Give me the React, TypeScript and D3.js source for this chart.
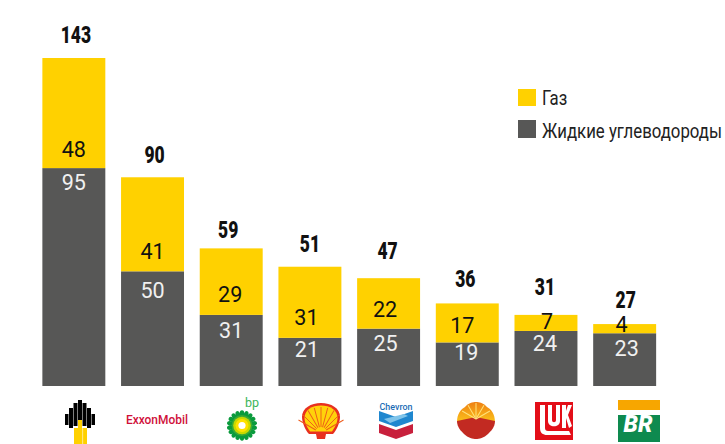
import React from "react";
import * as d3 from "d3";

const companies = ["Роснефть", "ExxonMobil", "bp", "Shell", "Chevron", "CNPC", "ЛУКОЙЛ", "Petrobras"];
const gas = [48, 41, 29, 31, 22, 17, 7, 4];
const liquids = [95, 50, 31, 21, 25, 19, 24, 23];
const totals = [143, 90, 59, 51, 47, 36, 31, 27];
const legendLabels = ["Газ", "Жидкие углеводороды"];

// label placement relative to the bar centre and segment edges
const gasNudge = [[0, -11], [0, -12], [-1, -13], [-3.5, -13], [-3.5, -12], [-5, -9], [1, -2], [-3, -1]];
const liquidNudge = [[0, 22], [0, 27], [0, 23], [-3, 19], [-3, 22], [-1, 18], [-1, 20], [2, 23]];
const totalNudge = [[2, -15], [2, -14], [-3, -10], [0, -15], [-1, -19], [-2, -16], [-1, -20], [1, -16]];

const YELLOW = "#ffd100";
const GRAY = "#575756";
const FONT = "Roboto, sans-serif";

const x = d3.scaleBand<string>().domain(companies).range([34.5, 664]).paddingInner(0.2).paddingOuter(0.1);
const y = d3.scaleLinear().domain([0, 143]).range([386, 58]);

function CondText({ x: tx, y: ty, sx = 0.85, children, ...rest }: any) {
  return (
    <text transform={`translate(${tx},${ty}) scale(${sx},1)`} fontFamily={FONT} {...rest}>
      {children}
    </text>
  );
}

function Rosneft({ cx }: { cx: number }) {
  const cols = [
    [-2, 4, 400, 425],
    [-6.5, 4, 403, 426],
    [2.5, 4, 403, 426],
    [-11, 4, 408, 428],
    [7, 4, 408, 428],
    [-15, 3.5, 414, 425],
    [11.5, 3.5, 414, 425],
  ];
  return (
    <g transform={`translate(${cx},0)`}>
      {cols.map((c, i) => (
        <rect key={i} x={c[0]} y={c[2]} width={c[1]} height={c[3] - c[2]} fill="#000" />
      ))}
      <path d="M-6,428 L-2,428 L-2,420 L2,420 L2,428 L7,428 L7,444 L-6,444 Z" fill={YELLOW} />
      <rect x={2.3} y={428} width={0.8} height={16} fill="#fff" opacity={0.7} />
    </g>
  );
}

function Sunflower({ cx, cy }: { cx: number; cy: number }) {
  const rays = d3.range(18).map((i) => (i * 360) / 18);
  return (
    <g>
      {rays.map((a) => (
        <ellipse key={a} cx={cx} cy={cy - 11.8} rx={2.3} ry={3.4} fill="#0a9a3c" transform={`rotate(${a},${cx},${cy})`} />
      ))}
      <circle cx={cx} cy={cy} r={10.5} fill="#3aa935" />
      <circle cx={cx} cy={cy} r={8.8} fill="#c9d800" />
      <circle cx={cx} cy={cy} r={6.5} fill="#ffe100" />
      <circle cx={cx} cy={cy} r={3.6} fill="#fff" />
      <text x={252} y={406.5} fontFamily={FONT} fontSize={12.5} fill="#3cb55a" textAnchor="middle">bp</text>
    </g>
  );
}

function ShellLogo({ cx }: { cx: number }) {
  const shell = "M-19,417 C-19,408 -10,403 0,403 C10,403 19,408 19,417 C19,423 15,431 12,434 L5,434 L4,439 L-4,439 L-5,434 L-12,434 C-15,431 -19,423 -19,417 Z";
  const ribs = d3.range(-4, 5).map((i) => i * 15);
  return (
    <g transform={`translate(${cx},0)`}>
      <path d={shell} fill="#e8301f" />
      <path d="M-16.5,418 C-16.5,410 -9,405.5 0,405.5 C9,405.5 16.5,410 16.5,418 C16.5,423 13.5,428 11,431.5 L-11,431.5 C-13.5,428 -16.5,423 -16.5,418 Z" fill="#ffd20a" />
      {ribs.map((a) => (
        <line key={a} x1={0} y1={427} x2={0} y2={407} stroke="#ee5a1a" strokeWidth={0.9} transform={`rotate(${a},0,433)`} />
      ))}
    </g>
  );
}

function ChevronLogo({ cx }: { cx: number }) {
  return (
    <g transform={`translate(${cx},0)`}>
      <text x={0} y={410} fontFamily={FONT} fontSize={8.5} fontWeight={500} fill="#1b6cb5" textAnchor="middle" textLength={33} lengthAdjust="spacingAndGlyphs">Chevron</text>
      <path d="M-17,411 L0,417 L17,411 L17,421 L0,427 L-17,421 Z" fill="#1f87cf" />
      <path d="M-17,424 L0,430 L17,424 L17,433 L0,439 L-17,433 Z" fill="#c8203c" />
      <path d="M-12,419 L8,414 L12,416 L-6,423 Z" fill="#7fc4ea" />
    </g>
  );
}

function Cnpc({ cx }: { cx: number }) {
  const rays = d3.range(-60, 61, 30);
  return (
    <g transform={`translate(${cx},0)`}>
      <defs>
        <linearGradient id="cnpcTop" x1="0" y1="0" x2="0" y2="1">
          <stop offset="0" stopColor="#ee7f14" />
          <stop offset="1" stopColor="#fbc21a" />
        </linearGradient>
      </defs>
      <path d="M-19,422 C-19,414 -15,409 -11,407 C-8,403 -3,402 0,402 C3,402 8,403 11,407 C15,409 19,414 19,422 Z" fill="url(#cnpcTop)" />
      <path d="M-19,421 C-19,427 -15,431 -12,434 C-8,438 -3,439 0,439 C3,439 8,438 12,434 C15,431 19,427 19,421 L0,417 Z" fill="#c22a22" />
      {rays.map((a) => (
        <line key={a} x1={0} y1={419} x2={0} y2={403} stroke="#ffe27a" strokeWidth={1} transform={`rotate(${a},0,419)`} />
      ))}
    </g>
  );
}

function Lukoil({ cx }: { cx: number }) {
  return (
    <g transform={`translate(${cx},0)`}>
      <rect x={-19} y={402} width={38} height={38} fill="#e30e18" />
      <path d="M-14,405 L-14,428 C-14,433 -11,435 -7,435 L17,435 L15,431 L-6,431 C-8,431 -9,430 -9,428 L-9,405 Z M-6,405 L-6,421 C-6,428 6,428 6,421 L6,405 L2,405 L2,420 C2,423 -2,423 -2,420 L-2,405 Z M8,405 L8,428 L12,428 L12,418 L15,428 L18,426 L14,415 L18,405 L14,405 L12,411 L12,405 Z" fill="#fff" />
    </g>
  );
}

function Petrobras({ cx }: { cx: number }) {
  return (
    <g transform={`translate(${cx},0)`}>
      <rect x={-21} y={400} width={42} height={10} fill="#f7a600" />
      <rect x={-21} y={415} width={42} height={27} fill="#0e8a4f" />
      <text x={-1} y={432} fontFamily={FONT} fontSize={23} fontWeight={900} fontStyle="italic" fill="#fff" textAnchor="middle">BR</text>
    </g>
  );
}

export default function App() {
  const bw = x.bandwidth();
  return (
    <svg width={725} height={444} style={{ position: "absolute", left: 0, top: 0, background: "#fff" }}>
      {companies.map((c, i) => {
        const bx = x(c)!;
        const yL = y(liquids[i]);
        const yT = y(liquids[i] + gas[i]);
        return (
          <g key={c}>
            <rect x={bx} y={yL} width={bw} height={y(0) - yL} fill={GRAY} />
            <rect x={bx} y={yT} width={bw} height={yL - yT} fill={YELLOW} />
          </g>
        );
      })}
      {companies.map((c, i) => {
        const cx = x(c)! + bw / 2;
        const yL = y(liquids[i]);
        const yT = y(liquids[i] + gas[i]);
        return (
          <g key={c}>
            <CondText x={cx + gasNudge[i][0]} y={yL + gasNudge[i][1]} sx={0.98} fontSize={22} fill="#111" textAnchor="middle">{gas[i]}</CondText>
            <CondText x={cx + liquidNudge[i][0]} y={yL + liquidNudge[i][1]} sx={0.98} fontSize={22} fill="#f0f0f0" textAnchor="middle">{liquids[i]}</CondText>
            <CondText x={cx + totalNudge[i][0]} y={yT + totalNudge[i][1]} sx={0.76} fontSize={23} fontWeight={900} fill="#111" textAnchor="middle">{totals[i]}</CondText>
          </g>
        );
      })}

      <rect x={518} y={89} width={18} height={17} fill={YELLOW} />
      <rect x={518} y={120} width={18} height={18} fill={GRAY} />
      <CondText x={542} y={105} sx={0.84} fontSize={20} fill="#222">{legendLabels[0]}</CondText>
      <CondText x={542} y={138} sx={0.84} fontSize={20} fill="#222">{legendLabels[1]}</CondText>

      <Rosneft cx={80} />
      <text x={157} y={424} fontFamily={FONT} fontSize={13} fontWeight={500} fill="#d0103a" textAnchor="middle" textLength={62} lengthAdjust="spacingAndGlyphs">ExxonMobil</text>
      <Sunflower cx={242} cy={425.5} />
      <ShellLogo cx={321} />
      <ChevronLogo cx={396} />
      <Cnpc cx={476} />
      <Lukoil cx={554} />
      <Petrobras cx={639} />
    </svg>
  );
}
